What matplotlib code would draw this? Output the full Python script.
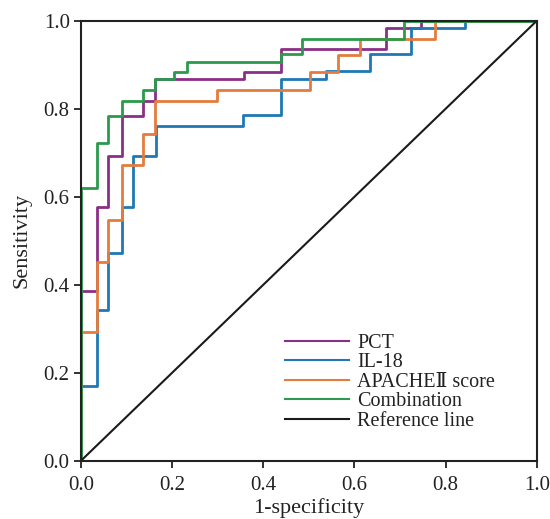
# ROC curves of PCT, IL-18, APACHE II score and their combination
import matplotlib
matplotlib.use("Agg")
import matplotlib.pyplot as plt

# ROC points (1-specificity, sensitivity)
pct_fpr = [0, 0, 0.035, 0.035, 0.059, 0.059, 0.090, 0.090, 0.136, 0.136, 0.163, 0.163,
           0.357, 0.357, 0.440, 0.440, 0.669, 0.669, 0.747, 0.747, 1.0]
pct_tpr = [0, 0.386, 0.386, 0.577, 0.577, 0.693, 0.693, 0.784, 0.784, 0.818, 0.818, 0.868,
           0.868, 0.884, 0.884, 0.936, 0.936, 0.984, 0.984, 1.0, 1.0]

il18_fpr = [0, 0, 0.035, 0.035, 0.059, 0.059, 0.090, 0.090, 0.114, 0.114, 0.164, 0.164,
            0.355, 0.355, 0.438, 0.438, 0.537, 0.537, 0.634, 0.634, 0.725, 0.725,
            0.842, 0.842, 1.0]
il18_tpr = [0, 0.170, 0.170, 0.343, 0.343, 0.473, 0.473, 0.577, 0.577, 0.693, 0.693, 0.761,
            0.761, 0.786, 0.786, 0.868, 0.868, 0.886, 0.886, 0.925, 0.925, 0.984,
            0.984, 1.0, 1.0]

apache_fpr = [0, 0, 0.035, 0.035, 0.059, 0.059, 0.090, 0.090, 0.136, 0.136, 0.163, 0.163,
              0.298, 0.298, 0.502, 0.502, 0.564, 0.564, 0.612, 0.612, 0.776, 0.776, 1.0]
apache_tpr = [0, 0.293, 0.293, 0.452, 0.452, 0.548, 0.548, 0.673, 0.673, 0.743, 0.743, 0.818,
              0.818, 0.843, 0.843, 0.884, 0.884, 0.923, 0.923, 0.959, 0.959, 1.0, 1.0]

comb_fpr = [0, 0, 0.035, 0.035, 0.059, 0.059, 0.090, 0.090, 0.136, 0.136, 0.163, 0.163,
            0.204, 0.204, 0.232, 0.232, 0.440, 0.440, 0.484, 0.484, 0.708, 0.708, 1.0]
comb_tpr = [0, 0.620, 0.620, 0.723, 0.723, 0.784, 0.784, 0.818, 0.818, 0.843, 0.843, 0.868,
            0.868, 0.884, 0.884, 0.907, 0.907, 0.925, 0.925, 0.959, 0.959, 1.0, 1.0]

ticks = [0.0, 0.2, 0.4, 0.6, 0.8, 1.0]

plt.rcParams["font.family"] = ["Liberation Serif", "DejaVu Serif"]

fig = plt.figure(figsize=(5.5, 5.19), dpi=100)
ax = fig.add_axes([0.147, 0.112, 0.829, 0.848])

ax.plot(pct_fpr, pct_tpr, color="#8b2f86", lw=2, label="PCT")
ax.plot(il18_fpr, il18_tpr, color="#1f78b4", lw=2, label="IL-18")
ax.plot(apache_fpr, apache_tpr, color="#e37c3c", lw=2, label="APACHEⅡ score")
ax.plot(comb_fpr, comb_tpr, color="#2b9a4c", lw=2, label="Combination")
ax.plot([0, 1], [0, 1], color="#1a1a1a", lw=1.5, label="Reference line")

ax.set_xlim(0, 1)
ax.set_ylim(0, 1)
ax.set_xticks(ticks)
ax.set_yticks(ticks)
ax.set_xticklabels([f"{t:.1f}" for t in ticks])
ax.set_yticklabels([f"{t:.1f}" for t in ticks])
ax.tick_params(labelsize=15, length=5, width=1.3, direction="out", colors="#222222")
ax.tick_params(axis="x", pad=6)
ax.tick_params(axis="y", pad=3)
for s in ax.spines.values():
    s.set_linewidth(1.5)
    s.set_color("#222222")

ax.set_xlabel("1-specificity", fontsize=16, labelpad=2, color="#222222")
ax.set_ylabel("Sensitivity", fontsize=16, labelpad=9, color="#222222")

leg = ax.legend(loc="upper left", bbox_to_anchor=(0.447, 0.289), frameon=False, fontsize=14.5,
                handlelength=3.2, labelspacing=0.02, handletextpad=0.4,
                borderpad=0, borderaxespad=0)
for line in leg.get_lines():
    line.set_linewidth(1.5)
for t in leg.get_texts():
    t.set_color("#222222")

fig.savefig("out.png", dpi=100)
